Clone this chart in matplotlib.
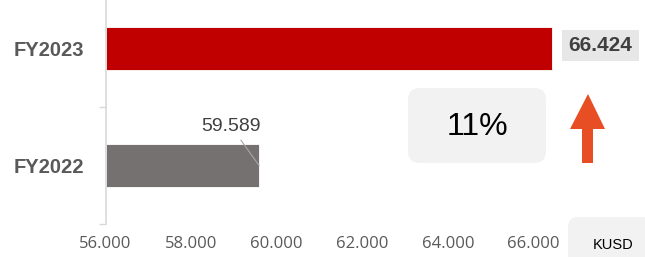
import matplotlib
matplotlib.use("Agg")
import matplotlib.pyplot as plt
from matplotlib.patches import FancyBboxPatch, Polygon

plt.rcParams['font.family'] = ['Liberation Sans', 'DejaVu Sans']

years = ["FY2022", "FY2023"]
values = [59.589, 66.424]
value_labels = ["59.589", "66.424"]
bar_colors = ["#767171", "#c00000"]
xticks = [56, 58, 60, 62, 64, 66]
xtick_labels = ["56.000", "58.000", "60.000", "62.000", "64.000", "66.000"]
growth = "11%"
unit = "KUSD"

fig = plt.figure(figsize=(6.45, 2.57), dpi=100)

# decoration layer in pixel coords (behind the chart)
ov = fig.add_axes([0, 0, 1, 1], zorder=0)
ov.set_xlim(0, 645)
ov.set_ylim(257, 0)
ov.axis("off")

ax = fig.add_axes([105.5 / 645, 33 / 257, 513.6 / 645, 234 / 257], zorder=1)
ax.patch.set_alpha(0)

pos = list(range(len(years)))
ax.barh(pos, [v - 56 for v in values], left=56, height=0.376,
        color=bar_colors, edgecolor="white", linewidth=0.6)
ax.set_xlim(56, 68)
ax.set_ylim(-0.5, 1.5)

ax.set_yticks(pos)
ax.set_yticklabels(years, fontsize=14.5, fontweight="bold", color="#595959")
ax.tick_params(axis="y", which="major", length=0, pad=15.5)
ax.set_yticks([-0.5, 0.5], minor=True)
ax.tick_params(axis="y", which="minor", length=5, color="#d9d9d9", width=1)

ax.set_xticks(xticks)
ax.set_xticklabels(xtick_labels, fontsize=12, color="#595959", family="Open Sans")
ax.tick_params(axis="x", length=0, pad=8.5)

for s in ["top", "right", "bottom"]:
    ax.spines[s].set_visible(False)
ax.spines["left"].set_color("#d9d9d9")
ax.spines["left"].set_linewidth(1.2)

# value labels
ax.annotate(value_labels[0], xy=(values[0], pos[0]), xytext=(-28, 39),
            textcoords="offset pixels", ha="center", va="center",
            fontsize=14, color="#404040",
            arrowprops=dict(arrowstyle="-", color="#a6a6a6", lw=0.8,
                            shrinkA=2, shrinkB=0))
ax.annotate(value_labels[1], xy=(values[1], pos[1]), xytext=(49, 3),
            textcoords="offset pixels", ha="center", va="center",
            fontsize=15, fontweight="bold", color="#404040",
            bbox=dict(boxstyle="square,pad=0.3", fc="#e7e7e7", ec="none"))

# growth box and arrow
ov.add_patch(FancyBboxPatch((408, 88), 138, 75,
                            boxstyle="round,pad=0,rounding_size=12",
                            fc="#f2f2f2", ec="none"))
ov.text(477, 127, growth, ha="center", va="center", fontsize=23, color="black")
ov.add_patch(Polygon([(588, 94), (605, 129), (593, 129), (593, 163),
                      (582, 163), (582, 129), (570, 129)],
                     closed=True, fc="#e84e24", ec="none"))

# unit box
ov.add_patch(FancyBboxPatch((568, 217), 100, 60,
                            boxstyle="round,pad=0,rounding_size=10",
                            fc="#f2f2f2", ec="none"))
ov.text(613, 245, unit, ha="center", va="center", fontsize=10.5, color="black")

fig.savefig("out.png", dpi=100)
